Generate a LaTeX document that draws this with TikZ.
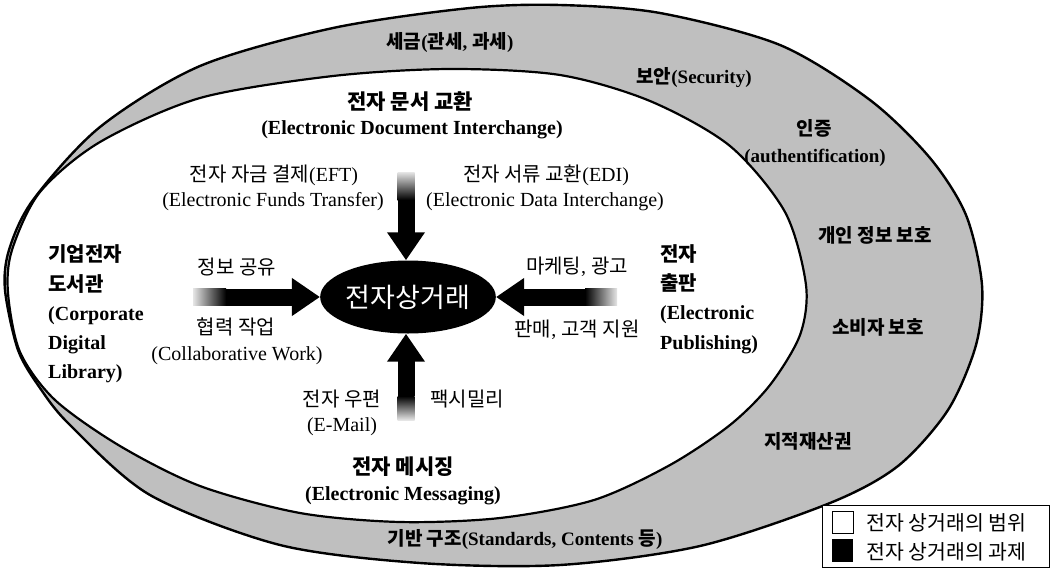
\documentclass[tikz,border=0pt]{standalone}
\usepackage{fontspec}
\setmainfont{Liberation Serif}
\newfontfamily\krf{Noto Sans CJK KR}
\newcommand\kt[1]{{\krf #1}}
\usetikzlibrary{arrows.meta,shapes.geometric}
\begin{document}
\begin{tikzpicture}[x=1pt,y=-1pt,
  txt/.style={inner sep=0pt, font=\fontsize{20}{24}\selectfont},
  bandtxt/.style={inner sep=0pt, font=\fontsize{19}{24}\selectfont\bfseries},
  ttl/.style={inner sep=0pt, font=\fontsize{20}{24}\selectfont\bfseries},
  blk/.style={inner sep=0pt, anchor=west, align=left, font=\fontsize{20}{29.2}\selectfont\bfseries},
  bigarrow/.style={line width=17pt, -{Triangle[width=36pt,length=28pt]}},
  legbox/.style={minimum width=21pt, minimum height=22pt, inner sep=0pt}]
\useasboundingbox (0,0) rectangle (1054,568);
% outer band (challenges)
\draw[line width=2.4pt, fill=black!25] plot[smooth cycle, tension=0.5] coordinates {
 (5,290) (9,250) (33,200) (100,127) (200,66) (333,28) (470,8) (560,5) (660,13)
 (780,45) (870,100) (930,158) (966,215) (982,285) (976,345) (948,410) (898,466)
 (830,503) (700,546) (560,565) (420,563) (280,545) (150,495) (70,425) (40,388) (18,350)};
% inner region (scope)
\draw[line width=2.2pt, fill=white] plot[smooth cycle, tension=0.5] coordinates {
 (8,293) (12,250) (40,192) (100,142) (200,98) (333,76) (450,69) (560,75) (650,101)
 (730,146) (785,212) (806,285) (800,335) (770,385) (730,425) (670,465) (594,500)
 (500,518) (400,522) (300,513) (200,486) (120,446) (55,400) (20,352)};
% centre
\node[ellipse, fill=black, minimum width=170pt, minimum height=73pt, inner sep=0pt,
  text=white, font=\krf\fontsize{27}{30}\selectfont] (ce) at (408,297) {전자상거래};
% arrows
\coordinate (tTs) at (406,172); \coordinate (tTe) at (406,200);
\coordinate (tBs) at (406,420); \coordinate (tBe) at (406,396);
\coordinate (tLs) at (193,297); \coordinate (tLe) at (226,297);
\coordinate (tRs) at (617,297); \coordinate (tRe) at (585,297);
\shade[top color=black!10, bottom color=black] ([xshift=-8.5pt]tTs) rectangle ([xshift=8.5pt]tTe);
\shade[top color=black, bottom color=black!10] ([xshift=-8.5pt]tBe) rectangle ([xshift=8.5pt]tBs);
\shade[left color=black!10, right color=black] ([yshift=-8.5pt]tLs) rectangle ([yshift=8.5pt]tLe);
\shade[left color=black, right color=black!10] ([yshift=-8.5pt]tRe) rectangle ([yshift=8.5pt]tRs);
\draw[bigarrow] (tTe) -- (tTe |- ce.north);
\draw[bigarrow] (tBe) -- (tBe |- ce.south);
\draw[bigarrow] (tLe) -- (ce.west);
\draw[bigarrow] (tRe) -- (ce.east);
% band labels
\node[bandtxt] (tax) at (450,43) {\kt{세금}(\kt{관세}, \kt{과세})};
\node[bandtxt] (sec) at (694,78) {\kt{보안}(Security)};
\node[bandtxt] (auth) at (814,128) {\kt{인증}};
\node[bandtxt] (authE) at (815,158) {(authentification)};
\node[bandtxt] (priv) at (875,235) {\kt{개인 정보 보호}};
\node[bandtxt] (cons) at (878,327) {\kt{소비자 보호}};
\node[bandtxt] (ip) at (808,441) {\kt{지적재산권}};
\node[bandtxt] (infra) at (525,539) {\kt{기반 구조}(Standards, Contents \kt{등})};
% inner labels
\node[ttl] (edK) at (410,102) {\kt{\fontsize{21}{24}\selectfont 전자 문서 교환}};
\node[ttl] (edE) at (412,130) {(Electronic Document Interchange)};
\node[txt] (eftK) at (274,175) {\kt{전자 자금 결제}(EFT)};
\node[txt] (eftE) at (273,202) {(Electronic Funds Transfer)};
\node[txt] (ediK) at (546,175) {\kt{전자 서류 교환}(EDI)};
\node[txt] (ediE) at (545,202) {(Electronic Data Interchange)};
\node[blk] (cdl) at (48,314) {\kt{기업전자}\\\kt{도서관}\\(Corporate\\Digital\\Library)};
\node[blk] (epb) at (660,299) {\kt{전자}\\\kt{출판}\\(Electronic\\Publishing)};
\node[txt] (info) at (237,267) {\kt{정보 공유}};
\node[txt] (collK) at (236,327) {\kt{협력 작업}};
\node[txt] (collE) at (237,356) {(Collaborative Work)};
\node[txt] (mkt) at (577,267) {\kt{마케팅}, \kt{광고}};
\node[txt] (sales) at (577,330) {\kt{판매}, \kt{고객 지원}};
\node[txt] (mailK) at (342,399) {\kt{전자 우편}};
\node[txt] (mailE) at (342,427) {(E-Mail)};
\node[txt] (fax) at (467,399) {\kt{팩시밀리}};
\node[ttl] (msgK) at (403,467) {\kt{\fontsize{21}{24}\selectfont 전자 메시징}};
\node[ttl] (msgE) at (403,496) {(Electronic Messaging)};
% legend
\node[draw, line width=0.8pt, fill=white, minimum width=227pt, minimum height=62pt, inner sep=0pt] (leg) at (935.5,536) {};
\node[legbox, draw, line width=0.8pt, fill=white] (lw) at (842.5,522) {};
\node[legbox, fill=black, minimum height=23pt] (lb) at (842.5,550.5) {};
\node[inner sep=0pt, anchor=west, font=\krf\fontsize{20.5}{24}\selectfont] (lwt) at (866,523) {전자 상거래의 범위};
\node[inner sep=0pt, anchor=west, font=\krf\fontsize{20.5}{24}\selectfont] (lbt) at (866,552) {전자 상거래의 과제};
\end{tikzpicture}
\end{document}
